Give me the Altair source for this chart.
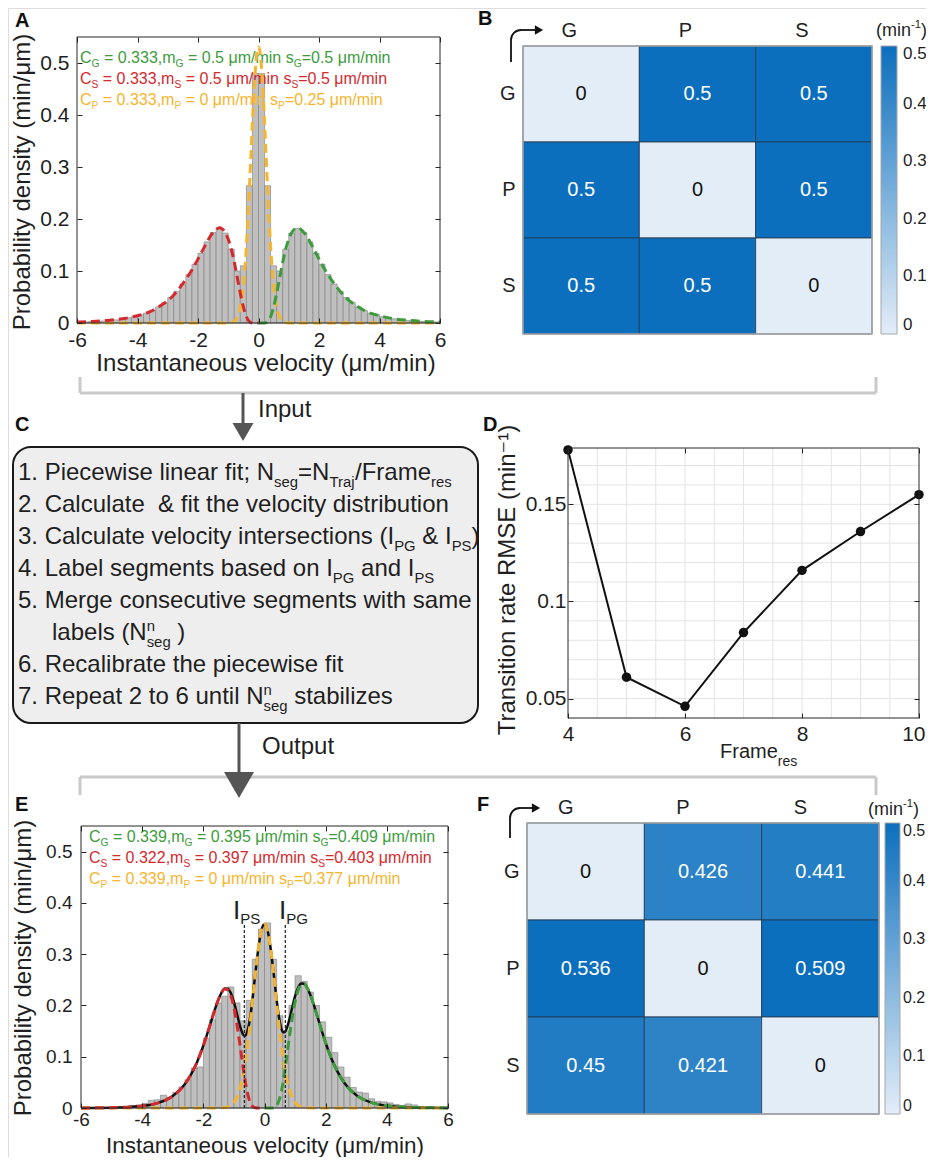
import altair as alt
import pandas as pd

FONT = "Liberation Sans, Arial, DejaVu Sans, sans-serif"
W, H = 918, 1149
OFF = 8
TXT = "#1f1f1f"
DUMMY = pd.DataFrame({"d": [0]})

# ---------------- data ----------------
VEL_TICKS = [-6, -4, -2, 0, 2, 4, 6]
DENS_TICKS = [0, 0.1, 0.2, 0.3, 0.4, 0.5]
BIN_EDGES = [round(-6 + 0.2 * i, 1) for i in range(61)]

A_HIST = [0.002, 0.002, 0.003, 0.003, 0.004, 0.005, 0.006, 0.008, 0.010, 0.012,
          0.016, 0.019, 0.024, 0.031, 0.039, 0.049, 0.061, 0.075, 0.093, 0.113,
          0.134, 0.156, 0.174, 0.182, 0.173, 0.142, 0.100, 0.110, 0.264, 0.480,
          0.480, 0.264, 0.110, 0.100, 0.142, 0.173, 0.182, 0.174, 0.156, 0.134,
          0.113, 0.093, 0.075, 0.061, 0.049, 0.039, 0.031, 0.024, 0.019, 0.016,
          0.012, 0.010, 0.008, 0.006, 0.005, 0.004, 0.003, 0.003, 0.002, 0.002]

E_HIST = [0.000, 0.000, 0.001, 0.000, 0.001, 0.001, 0.002, 0.003, 0.005, 0.006,
          0.009, 0.015, 0.016, 0.025, 0.021, 0.030, 0.041, 0.055, 0.078, 0.080,
          0.136, 0.172, 0.205, 0.218, 0.236, 0.205, 0.170, 0.210, 0.290, 0.349,
          0.361, 0.290, 0.180, 0.150, 0.200, 0.258, 0.247, 0.226, 0.200, 0.168,
          0.138, 0.108, 0.080, 0.060, 0.040, 0.031, 0.029, 0.018, 0.013, 0.012,
          0.010, 0.007, 0.005, 0.008, 0.006, 0.003, 0.002, 0.002, 0.001, 0.001]

A_GREEN_X = [0.0, 0.2, 0.3, 0.4, 0.5, 0.6, 0.7, 0.8, 0.9, 1.0, 1.1, 1.2, 1.3, 1.4, 1.5, 1.6,
             1.8, 2.0, 2.2, 2.4, 2.6, 2.8, 3.0, 3.25, 3.5, 3.75, 4.0, 4.5, 5.0, 5.5, 6.0]
A_GREEN_Y = [0.0, 0.000, 0.003, 0.012, 0.031, 0.057, 0.087, 0.117, 0.142, 0.161, 0.174, 0.181,
             0.183, 0.180, 0.174, 0.166, 0.145, 0.123, 0.102, 0.084, 0.068, 0.054, 0.043, 0.033,
             0.024, 0.018, 0.014, 0.008, 0.005, 0.003, 0.002]
A_RED_X = [-6.0, -5.5, -5.0, -4.5, -4.0, -3.75, -3.5, -3.25, -3.0, -2.8, -2.6, -2.4, -2.2, -2.0,
           -1.8, -1.6, -1.5, -1.4, -1.3, -1.2, -1.1, -1.0, -0.9, -0.8, -0.7, -0.6, -0.5, -0.4,
           -0.3, -0.2, 0.0]
A_RED_Y = [0.002, 0.003, 0.005, 0.008, 0.014, 0.018, 0.024, 0.033, 0.043, 0.054, 0.068, 0.084,
           0.102, 0.123, 0.145, 0.166, 0.174, 0.180, 0.183, 0.181, 0.174, 0.161, 0.142, 0.117,
           0.087, 0.057, 0.031, 0.012, 0.003, 0.000, 0.0]
A_YEL_X = [-6.0, -1.2, -1.0, -0.9, -0.8, -0.7, -0.6, -0.5, -0.45, -0.4, -0.35, -0.3, -0.25, -0.2,
           -0.15, -0.1, -0.05, 0.0, 0.05, 0.1, 0.15, 0.2, 0.25, 0.3, 0.35, 0.4, 0.45, 0.5, 0.6,
           0.7, 0.8, 0.9, 1.0, 1.2, 6.0]
A_YEL_Y = [0.0, 0.0, 0.0002, 0.0008, 0.003, 0.011, 0.030, 0.072, 0.105, 0.148, 0.199, 0.259,
           0.322, 0.386, 0.444, 0.491, 0.521, 0.531, 0.521, 0.491, 0.444, 0.386, 0.322, 0.259,
           0.199, 0.148, 0.105, 0.072, 0.030, 0.011, 0.003, 0.0008, 0.0002, 0.0, 0.0]

E_RED_X = [-6.0, -5.5, -5.0, -4.5, -4.0, -3.75, -3.5, -3.25, -3.0, -2.8, -2.6, -2.4, -2.2, -2.0,
           -1.9, -1.8, -1.7, -1.6, -1.5, -1.4, -1.3, -1.2, -1.1, -1.0, -0.9, -0.8, -0.7, -0.6,
           -0.5, -0.4, -0.3, -0.2, 0.0]
E_RED_Y = [0.0001, 0.0003, 0.0007, 0.0016, 0.0039, 0.0061, 0.0096, 0.0150, 0.0234, 0.0332,
           0.0469, 0.0656, 0.0904, 0.1217, 0.1395, 0.1583, 0.1775, 0.1960, 0.2125, 0.2252,
           0.2319, 0.2305, 0.2190, 0.1963, 0.1628, 0.1220, 0.0791, 0.0420, 0.0164, 0.0039,
           0.0004, 0.0, 0.0]
E_GREEN_X = [0.0, 0.2, 0.3, 0.4, 0.5, 0.6, 0.7, 0.8, 0.9, 1.0, 1.1, 1.2, 1.3, 1.4, 1.5, 1.6,
             1.7, 1.8, 1.9, 2.0, 2.2, 2.4, 2.6, 2.8, 3.0, 3.25, 3.5, 3.75, 4.0, 4.5, 5.0, 5.5, 6.0]
E_GREEN_Y = [0.0, 0.0, 0.0005, 0.0049, 0.0192, 0.0474, 0.0872, 0.1320, 0.1738, 0.2075, 0.2299,
             0.2407, 0.2414, 0.2338, 0.2204, 0.2033, 0.1841, 0.1644, 0.1451, 0.1268, 0.0946,
             0.0691, 0.0497, 0.0354, 0.0251, 0.0162, 0.0105, 0.0068, 0.0044, 0.0019, 0.0008,
             0.0004, 0.0002]
E_YEL_X = [-6.0, -2.0, -1.6, -1.4, -1.2, -1.0, -0.9, -0.8, -0.7, -0.6, -0.5, -0.4, -0.3, -0.2,
           -0.1, 0.0, 0.1, 0.2, 0.3, 0.4, 0.5, 0.6, 0.7, 0.8, 0.9, 1.0, 1.2, 1.4, 1.6, 2.0, 6.0]
E_YEL_Y = [0.0, 0.0, 0.0001, 0.0004, 0.0023, 0.0107, 0.0208, 0.0378, 0.0640, 0.1011, 0.1489,
           0.2043, 0.2614, 0.3116, 0.3463, 0.3587, 0.3463, 0.3116, 0.2614, 0.2043, 0.1489,
           0.1011, 0.0640, 0.0378, 0.0208, 0.0107, 0.0023, 0.0004, 0.0001, 0.0, 0.0]
E_SUM_X = [-6.0, -5.0, -4.5, -4.0, -3.5, -3.0, -2.6, -2.2, -2.0, -1.8, -1.6, -1.5, -1.4, -1.3,
           -1.2, -1.1, -1.0, -0.9, -0.8, -0.7, -0.65, -0.6, -0.5, -0.4, -0.3, -0.2, -0.1, 0.0,
           0.1, 0.2, 0.3, 0.4, 0.5, 0.6, 0.65, 0.7, 0.8, 0.9, 1.0, 1.1, 1.2, 1.3, 1.4, 1.5,
           1.6, 1.8, 2.0, 2.2, 2.6, 3.0, 3.5, 4.0, 4.5, 5.0, 6.0]
E_SUM_Y = [0.0001, 0.0007, 0.0016, 0.0039, 0.0096, 0.0234, 0.0469, 0.0904, 0.1217, 0.1583,
           0.1961, 0.2126, 0.2256, 0.2329, 0.2328, 0.2241, 0.2070, 0.1836, 0.1598, 0.1431,
           0.1407, 0.1431, 0.1653, 0.2082, 0.2618, 0.3116, 0.3463, 0.3587, 0.3463, 0.3116,
           0.2619, 0.2092, 0.1681, 0.1485, 0.1475, 0.1512, 0.1698, 0.1946, 0.2182, 0.2350,
           0.2430, 0.2424, 0.2342, 0.2205, 0.2034, 0.1644, 0.1268, 0.0946, 0.0497, 0.0251,
           0.0105, 0.0044, 0.0019, 0.0008, 0.0002]
E_CROSS_X = [-0.66, 0.68]
E_CROSS_TOP = [0.36, 0.36]

STATES = ["G", "P", "S"]
HEAT_FROM = ["G", "G", "G", "P", "P", "P", "S", "S", "S"]
HEAT_TO = ["G", "P", "S", "G", "P", "S", "G", "P", "S"]
B_RATES = [0, 0.5, 0.5, 0.5, 0, 0.5, 0.5, 0.5, 0]
F_RATES = [0, 0.426, 0.441, 0.536, 0, 0.509, 0.45, 0.421, 0]
CBAR_TICKS = [0, 0.1, 0.2, 0.3, 0.4, 0.5]

FRAME_RES = [4, 5, 6, 7, 8, 9, 10]
RMSE = [0.178, 0.061, 0.046, 0.084, 0.116, 0.136, 0.155]
D_XTICKS = [4, 6, 8, 10]
D_YTICKS = [0.05, 0.1, 0.15]
D_XGRID = [4.5, 5, 5.5, 6, 6.5, 7, 7.5, 8, 8.5, 9, 9.5]
D_YGRID = [0.05, 0.06, 0.07, 0.08, 0.09, 0.10, 0.11, 0.12, 0.13, 0.14, 0.15, 0.16, 0.17]

LEG_A = [
    ("G", "0.333", "0.5", "0.5"),
    ("S", "0.333", "0.5", "0.5"),
    ("P", "0.333", "0", "0.25"),
]
LEG_E = [
    ("G", "0.339", "0.395", "0.409"),
    ("S", "0.322", "0.397", "0.403"),
    ("P", "0.339", "0", "0.377"),
]

C_LINES = [
    [("1. Piecewise linear fit; N", "n"), ("seg", "sub"), ("=N", "n"), ("Traj", "sub"),
     ("/Frame", "n"), ("res", "sub")],
    [("2. Calculate  & fit the velocity distribution", "n")],
    [("3. Calculate velocity intersections (I", "n"), ("PG", "sub"), (" & I", "n"),
     ("PS", "sub"), (")", "n")],
    [("4. Label segments based on I", "n"), ("PG", "sub"), (" and I", "n"), ("PS", "sub")],
    [("5. Merge consecutive segments with same", "n")],
    [("labels (N", "n"), ("n", "sup", False), ("seg", "sub"), (" )", "n")],
    [("6. Recalibrate the piecewise fit", "n")],
    [("7. Repeat 2 to 6 until N", "n"), ("n", "sup", False), ("seg", "sub"), (" stabilizes", "n")],
]

# ---------------- styles ----------------
RED = "#d42a2e"
GREEN = "#3c9c3c"
YEL = "#f5b52e"
LIGHT = "#e3edf8"
DARK = "#0b6fbd"
BRACKET = "#c9c9c9"
ARROW = "#555555"

AW = {' ': 278, '(': 333, ')': 333, ',': 278, '-': 333, '.': 278, '/': 278, ';': 278, '=': 584,
      '&': 667, 'A': 667, 'B': 667, 'C': 722, 'D': 722, 'E': 667, 'F': 611, 'G': 778, 'H': 722,
      'I': 278, 'L': 556, 'M': 833, 'N': 722, 'P': 667, 'R': 722, 'S': 667, 'T': 611,
      'a': 556, 'b': 556, 'c': 500, 'd': 556, 'e': 556, 'f': 278, 'g': 556, 'h': 556, 'i': 222,
      'j': 222, 'k': 500, 'l': 222, 'm': 833, 'n': 556, 'o': 556, 'p': 556, 'q': 556, 'r': 333,
      's': 500, 't': 278, 'u': 556, 'v': 500, 'w': 722, 'x': 500, 'y': 500, 'z': 500, 'μ': 576}


def tw(s, size):
    return sum(AW.get(c, 556) for c in s) * size / 1000.0


def T(s, x, y, size, color=TXT, align="left", baseline="alphabetic", weight="normal", angle=None):
    kw = dict(text=s.replace(" ", "\u00a0"), fontSize=size, color=color, align=align,
              baseline=baseline, fontWeight=weight, font=FONT)
    if angle is not None:
        kw["angle"] = angle
    return alt.Chart(DUMMY).mark_text(**kw).encode(x=alt.value(x - OFF), y=alt.value(y - OFF))


def rich(parts, x, y, size, color=TXT, ss=0.62, sub_dy=0.29, sup_dy=0.38):
    out = []
    cx = x
    for p in parts:
        txt, kind = p[0], p[1]
        adv = p[2] if len(p) > 2 else True
        if kind == "n":
            s, dy = size, 0
        elif kind == "sub":
            s, dy = size * ss, size * sub_dy
        else:
            s, dy = size * ss, -size * sup_dy
        lead = len(txt) - len(txt.lstrip(" "))
        body = txt.strip(" ")
        if body:
            out.append(T(body, cx + tw(" " * lead, s), y + dy, s, color))
        if adv:
            cx += tw(txt, s)
    return out


def hline(x1, x2, y, color, w):
    return alt.Chart(DUMMY).mark_rule(color=color, strokeWidth=w).encode(
        x=alt.value(x1 - OFF), x2=alt.value(x2 - OFF), y=alt.value(y - OFF))


def vline(x, y1, y2, color, w):
    return alt.Chart(DUMMY).mark_rule(color=color, strokeWidth=w).encode(
        x=alt.value(x - OFF), y=alt.value(y1 - OFF), y2=alt.value(y2 - OFF))


def tri(x, y, shape, size, color):
    return alt.Chart(DUMMY).mark_point(shape=shape, size=size, filled=True, color=color,
                                       opacity=1, strokeWidth=0).encode(
        x=alt.value(x - OFF), y=alt.value(y - OFF))


def box(x1, y1, x2, y2, **kw):
    return alt.Chart(DUMMY).mark_rect(**kw).encode(
        x=alt.value(x1 - OFF), x2=alt.value(x2 - OFF), y=alt.value(y1 - OFF), y2=alt.value(y2 - OFF))


def arc(cx, cy, r, thick, color):
    return alt.Chart(DUMMY).mark_arc(color=color, theta=4.712, theta2=6.283, radius=r,
                                     radius2=r - thick).encode(
        x=alt.value(cx - OFF), y=alt.value(cy - OFF))


def ax_common(**kw):
    base = dict(domain=False, grid=False, title=None, labelColor=TXT, labelFont=FONT,
                labelFlush=False, labelOverlap=False)
    base.update(kw)
    return alt.Axis(**base)


def inward_axes(sx, sy, xr, yr, xt, yt, tl=5):
    out = []
    specs = [("x", "top", -yr[0], xt), ("x", "bottom", yr[1] - H, xt),
             ("y", "right", xr[0] - W, yt), ("y", "left", -xr[1], yt)]
    for ch, orient, off, vals in specs:
        ax = ax_common(orient=orient, offset=off, values=vals, labels=False, ticks=True,
                       tickSize=tl, tickColor="#262626", tickWidth=1, zindex=1)
        df = pd.DataFrame({"v": vals})
        if ch == "x":
            enc = dict(x=alt.X("v:Q", scale=sx, axis=ax))
        else:
            enc = dict(y=alt.Y("v:Q", scale=sy, axis=ax))
        out.append(alt.Chart(df).mark_point(opacity=0).encode(**enc))
    return out


def curve(xs, ys, sx, sy, color, width, dash=None):
    kw = dict(color=color, strokeWidth=width, interpolate="monotone")
    if dash:
        kw["strokeDash"] = dash
    return alt.Chart(pd.DataFrame({"x": xs, "y": ys})).mark_line(**kw).encode(
        x=alt.X("x:Q", scale=sx, axis=None), y=alt.Y("y:Q", scale=sy, axis=None))


def legend_lines(entries, x, y0, dy, size):
    out = []
    for (sub, c, m, s), col, k in zip(entries, [GREEN, RED, YEL], range(3)):
        parts = [("C", "n"), (sub, "sub"), (" = " + c + ",m", "n"), (sub, "sub"),
                 (" = " + m + " μm/min s", "n"), (sub, "sub"), ("=" + s + " μm/min", "n")]
        out += rich(parts, x, y0 + k * dy, size, color=col, ss=0.64, sub_dy=0.27)
    return out


def hist_panel(hist, curves, xr_p, yr_p, tick_fs, padx, pady, leg, extra=None, under=None):
    xr = [xr_p[0] - OFF, xr_p[1] - OFF]
    yr = [yr_p[0] - OFF, yr_p[1] - OFF]
    sx = alt.Scale(domain=[-6, 6], range=xr, nice=False, zero=False)
    sy = alt.Scale(domain=[0, 0.55], range=yr, nice=False, zero=False)
    df = pd.DataFrame({"x0": BIN_EDGES[:-1], "x1": BIN_EDGES[1:], "h": hist,
                       "z": [0.0] * len(hist)})
    axx = ax_common(orient="bottom", offset=yr[0] - H, values=VEL_TICKS,
                    labelExpr="'' + datum.value", labelFontSize=tick_fs, labelPadding=padx,
                    ticks=False)
    axy = ax_common(orient="left", offset=-xr[0], values=DENS_TICKS,
                    labelExpr="'' + datum.value", labelFontSize=tick_fs, labelPadding=pady,
                    ticks=False)
    bars = alt.Chart(df).mark_rect(fill="#bfbfbf", stroke="#7d7d7d", strokeWidth=0.6).encode(
        x=alt.X("x0:Q", scale=sx, axis=axx), x2="x1:Q",
        y=alt.Y("h:Q", scale=sy, axis=axy), y2="z:Q")
    layers = [bars] + leg
    if under is not None:
        layers += under(sx, sy)
    for xs, ys, col in curves:
        layers.append(curve(xs, ys, sx, sy, col, 3, [9, 5]))
    if extra is not None:
        layers += extra(sx, sy)
    layers.append(box(xr_p[0], yr_p[1], xr_p[1], yr_p[0], fillOpacity=0, stroke="#262626",
                      strokeWidth=1))
    layers += inward_axes(sx, sy, xr, yr, VEL_TICKS, DENS_TICKS)
    return alt.layer(*layers).resolve_axis(x="independent", y="independent")


def heat_panel(vals, xr_p, yr_p, leg_x, leg_y, leg_len, lab_off, cb_thick=16, cb_fs=17,
               cb_off=6):
    xr = [xr_p[0] - OFF, xr_p[1] - OFF]
    yr = [yr_p[0] - OFF, yr_p[1] - OFF]
    df = pd.DataFrame({"row": HEAT_FROM, "col": HEAT_TO, "val": vals,
                       "lab": [f"{v:g}" for v in vals]})
    sx = alt.Scale(domain=STATES, range=xr, paddingInner=0, paddingOuter=0)
    sy = alt.Scale(domain=STATES, range=yr, paddingInner=0, paddingOuter=0)
    sc = alt.Scale(domain=[0, 0.5], range=[LIGHT, DARK], clamp=True, interpolate="rgb")
    axt = ax_common(orient="top", offset=-yr[0], labelFontSize=20, labelPadding=6,
                    labelOffset=lab_off, labelAngle=0, ticks=False)
    axl = ax_common(orient="left", offset=-xr[0], labelFontSize=20, labelPadding=8, ticks=False)
    leg = alt.Legend(orient="none", legendX=leg_x - OFF, legendY=leg_y - OFF,
                     direction="vertical", gradientLength=leg_len, gradientThickness=cb_thick,
                     title=None, values=CBAR_TICKS, labelExpr="'' + datum.value",
                     labelFontSize=cb_fs, labelFont=FONT, labelColor=TXT, labelOffset=cb_off,
                     gradientStrokeColor="#a6a6a6", gradientStrokeWidth=1, labelOverlap=False,
                     labelBaseline="middle", padding=0)
    rect = alt.Chart(df).mark_rect(stroke="#22384f", strokeWidth=0.8).encode(
        x=alt.X("col:N", scale=sx, axis=axt, sort=STATES),
        y=alt.Y("row:N", scale=sy, axis=axl, sort=STATES),
        color=alt.Color("val:Q", scale=sc, legend=leg))
    txt = alt.Chart(df).mark_text(fontSize=20, font=FONT).encode(
        x=alt.X("col:N", scale=sx, axis=None, sort=STATES),
        y=alt.Y("row:N", scale=sy, axis=None, sort=STATES),
        text="lab:N",
        color=alt.condition("datum.val > 0.2", alt.value("white"), alt.value("#111111")))
    frame = box(xr_p[0], yr_p[0], xr_p[1], yr_p[1], fillOpacity=0, stroke="#a6a6a6",
                strokeWidth=1.5)
    return alt.layer(rect, txt, frame).resolve_axis(x="independent", y="independent")


# ---------------- panel A ----------------
panelA = hist_panel(A_HIST, [(A_YEL_X, A_YEL_Y, YEL), (A_RED_X, A_RED_Y, RED),
                             (A_GREEN_X, A_GREEN_Y, GREEN)],
                    [77, 440], [323, 37], 21, 6, 8, legend_lines(LEG_A, 80, 63, 21, 16))

# ---------------- panel E ----------------


def e_under(sx, sy):
    return [curve(E_SUM_X, E_SUM_Y, sx, sy, "#111111", 2.5)]


def e_extra(sx, sy):
    df = pd.DataFrame({"x": E_CROSS_X, "lo": [0.0, 0.0], "hi": E_CROSS_TOP})
    return [alt.Chart(df).mark_rule(color="#1a1a1a", strokeDash=[3, 2], strokeWidth=1.2).encode(
        x=alt.X("x:Q", scale=sx, axis=None), y=alt.Y("lo:Q", scale=sy, axis=None), y2="hi:Q")]


panelE = hist_panel(E_HIST, [(E_YEL_X, E_YEL_Y, YEL), (E_RED_X, E_RED_Y, RED),
                             (E_GREEN_X, E_GREEN_Y, GREEN)],
                    [81, 448], [1108, 826], 19, 2, 9, legend_lines(LEG_E, 89, 842, 21, 16),
                    extra=e_extra, under=e_under)

# ---------------- panel B / F ----------------
panelB = heat_panel(B_RATES, [523, 872], [46, 334], 881, 46, 288, -12)
panelF = heat_panel(F_RATES, [527, 879], [823, 1114], 885, 823, 291, -20, cb_thick=15,
                    cb_fs=16, cb_off=3)

# ---------------- panel D ----------------
dxr_p, dyr_p = [568, 919], [718, 448]
dxr = [dxr_p[0] - OFF, dxr_p[1] - OFF]
dyr = [dyr_p[0] - OFF, dyr_p[1] - OFF]
dsx = alt.Scale(domain=[4, 10], range=dxr, nice=False, zero=False)
dsy = alt.Scale(domain=[0.04, 0.179], range=dyr, nice=False, zero=False)
gx = alt.Chart(pd.DataFrame({"g": D_XGRID, "lo": 0.04, "hi": 0.179})).mark_rule(
    color="#e4e4e4", strokeWidth=1).encode(
    x=alt.X("g:Q", scale=dsx, axis=None), y=alt.Y("lo:Q", scale=dsy, axis=None), y2="hi:Q")
gy = alt.Chart(pd.DataFrame({"g": D_YGRID, "lo": 4, "hi": 10})).mark_rule(
    color="#e4e4e4", strokeWidth=1).encode(
    y=alt.Y("g:Q", scale=dsy, axis=None), x=alt.X("lo:Q", scale=dsx, axis=None), x2="hi:Q")
dfD = pd.DataFrame({"f": FRAME_RES, "r": RMSE})
dline = alt.Chart(dfD).mark_line(color="#111111", strokeWidth=2).encode(
    x=alt.X("f:Q", scale=dsx, axis=None), y=alt.Y("r:Q", scale=dsy, axis=None))
d_xaxis = ax_common(orient="bottom", offset=dyr[0] - H, values=D_XTICKS,
                    labelExpr="'' + datum.value", labelFontSize=21, labelPadding=5, ticks=False,
                    labelAlign={"condition": {"test": "datum.value == 10", "value": "right"},
                                "value": "center"},
                    labelOffset={"condition": {"test": "datum.value == 10", "value": 6},
                                 "value": 0})
dpts = alt.Chart(dfD).mark_circle(size=90, color="#111111", opacity=1).encode(
    x=alt.X("f:Q", scale=dsx, axis=d_xaxis),
    y=alt.Y("r:Q", scale=dsy, axis=ax_common(orient="left", offset=-dxr[0], values=D_YTICKS,
                                             labelExpr="'' + datum.value", labelFontSize=21,
                                             labelPadding=2, ticks=False)))
dframe = box(dxr_p[0], dyr_p[1], dxr_p[1], dyr_p[0], fillOpacity=0, stroke="#262626",
             strokeWidth=1)
panelD = alt.layer(gx, gy, dline, dpts, dframe,
                   *inward_axes(dsx, dsy, dxr, dyr, D_XTICKS, D_YTICKS)).resolve_axis(
    x="independent", y="independent")

# ---------------- decorations ----------------
deco = []
# panel letters
for lab, x, y in [("A", 15, 27), ("B", 478, 25), ("C", 15, 431), ("D", 483, 431),
                  ("E", 15, 811), ("F", 477, 811)]:
    deco.append(T(lab, x, y, 20, color="#111111", weight="bold"))

# axis titles
deco.append(T("Probability density (min/μm)", 23, 182, 24, angle=270, align="center",
              baseline="middle"))
deco.append(T("Instantaneous velocity (μm/min)", 266, 371, 24, align="center"))
deco.append(T("Probability density (min/μm)", 24, 968, 24, angle=270, align="center",
              baseline="middle"))
deco.append(T("Instantaneous velocity (μm/min)", 265, 1152.5, 22.5, align="center"))
deco.append(T("Transition rate RMSE (min⁻¹)", 508, 580, 24, angle=270, align="center",
              baseline="middle"))
deco += rich([("Frame", "n"), ("res", "sub")], 720, 758, 20, ss=0.7, sub_dy=0.4)

# colorbar units
deco += rich([("(min", "n"), ("-1", "sup"), (")", "n")], 876, 36, 18, sup_dy=0.42)
deco += rich([("(min", "n"), ("-1", "sup"), (")", "n")], 868, 815, 18, sup_dy=0.42)

# transition arrows at heatmap corners
for sx_, sy_top, sy_bot, tipx in [(511, 30, 62, 543), (510, 808, 838, 540)]:
    r = 10
    deco.append(vline(sx_, sy_top + r, sy_bot, "#111111", 1.8))
    deco.append(arc(sx_ + r, sy_top + r, r + 0.9, 1.8, "#111111"))
    deco.append(hline(sx_ + r, tipx - 6, sy_top, "#111111", 1.8))
    deco.append(tri(tipx - 4, sy_top, "triangle-right", 90, "#111111"))

# I_PS / I_PG labels
deco += rich([("I", "n"), ("PS", "sub")], 233, 919, 26, ss=0.58, sub_dy=0.2)
deco += rich([("I", "n"), ("PG", "sub")], 279, 919, 26, ss=0.58, sub_dy=0.2)

# brackets and flow arrows
deco.append(hline(80, 876, 393, BRACKET, 3))
deco.append(vline(80, 377, 393, BRACKET, 3))
deco.append(vline(876, 377, 393, BRACKET, 3))
deco.append(vline(243, 393, 425, ARROW, 3))
deco.append(tri(243, 432, "triangle-down", 441, ARROW))
deco.append(T("Input", 258, 417, 24))

deco.append(hline(80, 876, 777, BRACKET, 3))
deco.append(vline(80, 777, 795, BRACKET, 3))
deco.append(vline(876, 777, 795, BRACKET, 3))
deco.append(vline(239, 723, 775, ARROW, 3))
deco.append(tri(239, 785, "triangle-down", 900, ARROW))
deco.append(T("Output", 262, 754, 24))

# panel C box and text
boxC = box(13, 447, 478, 723, fill="#efeeee", stroke="#1a1a1a", strokeWidth=2, cornerRadius=18)
C_BASE = [480, 512, 544, 576, 608, 640, 672, 704]
C_XS = [18, 18, 18, 18, 18, 52, 18, 18]
ctext = []
for parts, yb, xb in zip(C_LINES, C_BASE, C_XS):
    ctext += rich(parts, xb, yb, 24)

chart = alt.layer(panelA, panelB, boxC, *ctext, panelD, panelE, panelF, *deco).resolve_scale(
    x="independent", y="independent", color="independent").resolve_axis(
    x="independent", y="independent").resolve_legend(color="independent").properties(
    width=W, height=H, autosize=alt.AutoSizeParams(type="none"), padding=0).configure_view(
    stroke=None).configure(font=FONT)

chart.save("out.html", embed_options={"renderer": "svg", "actions": False})
